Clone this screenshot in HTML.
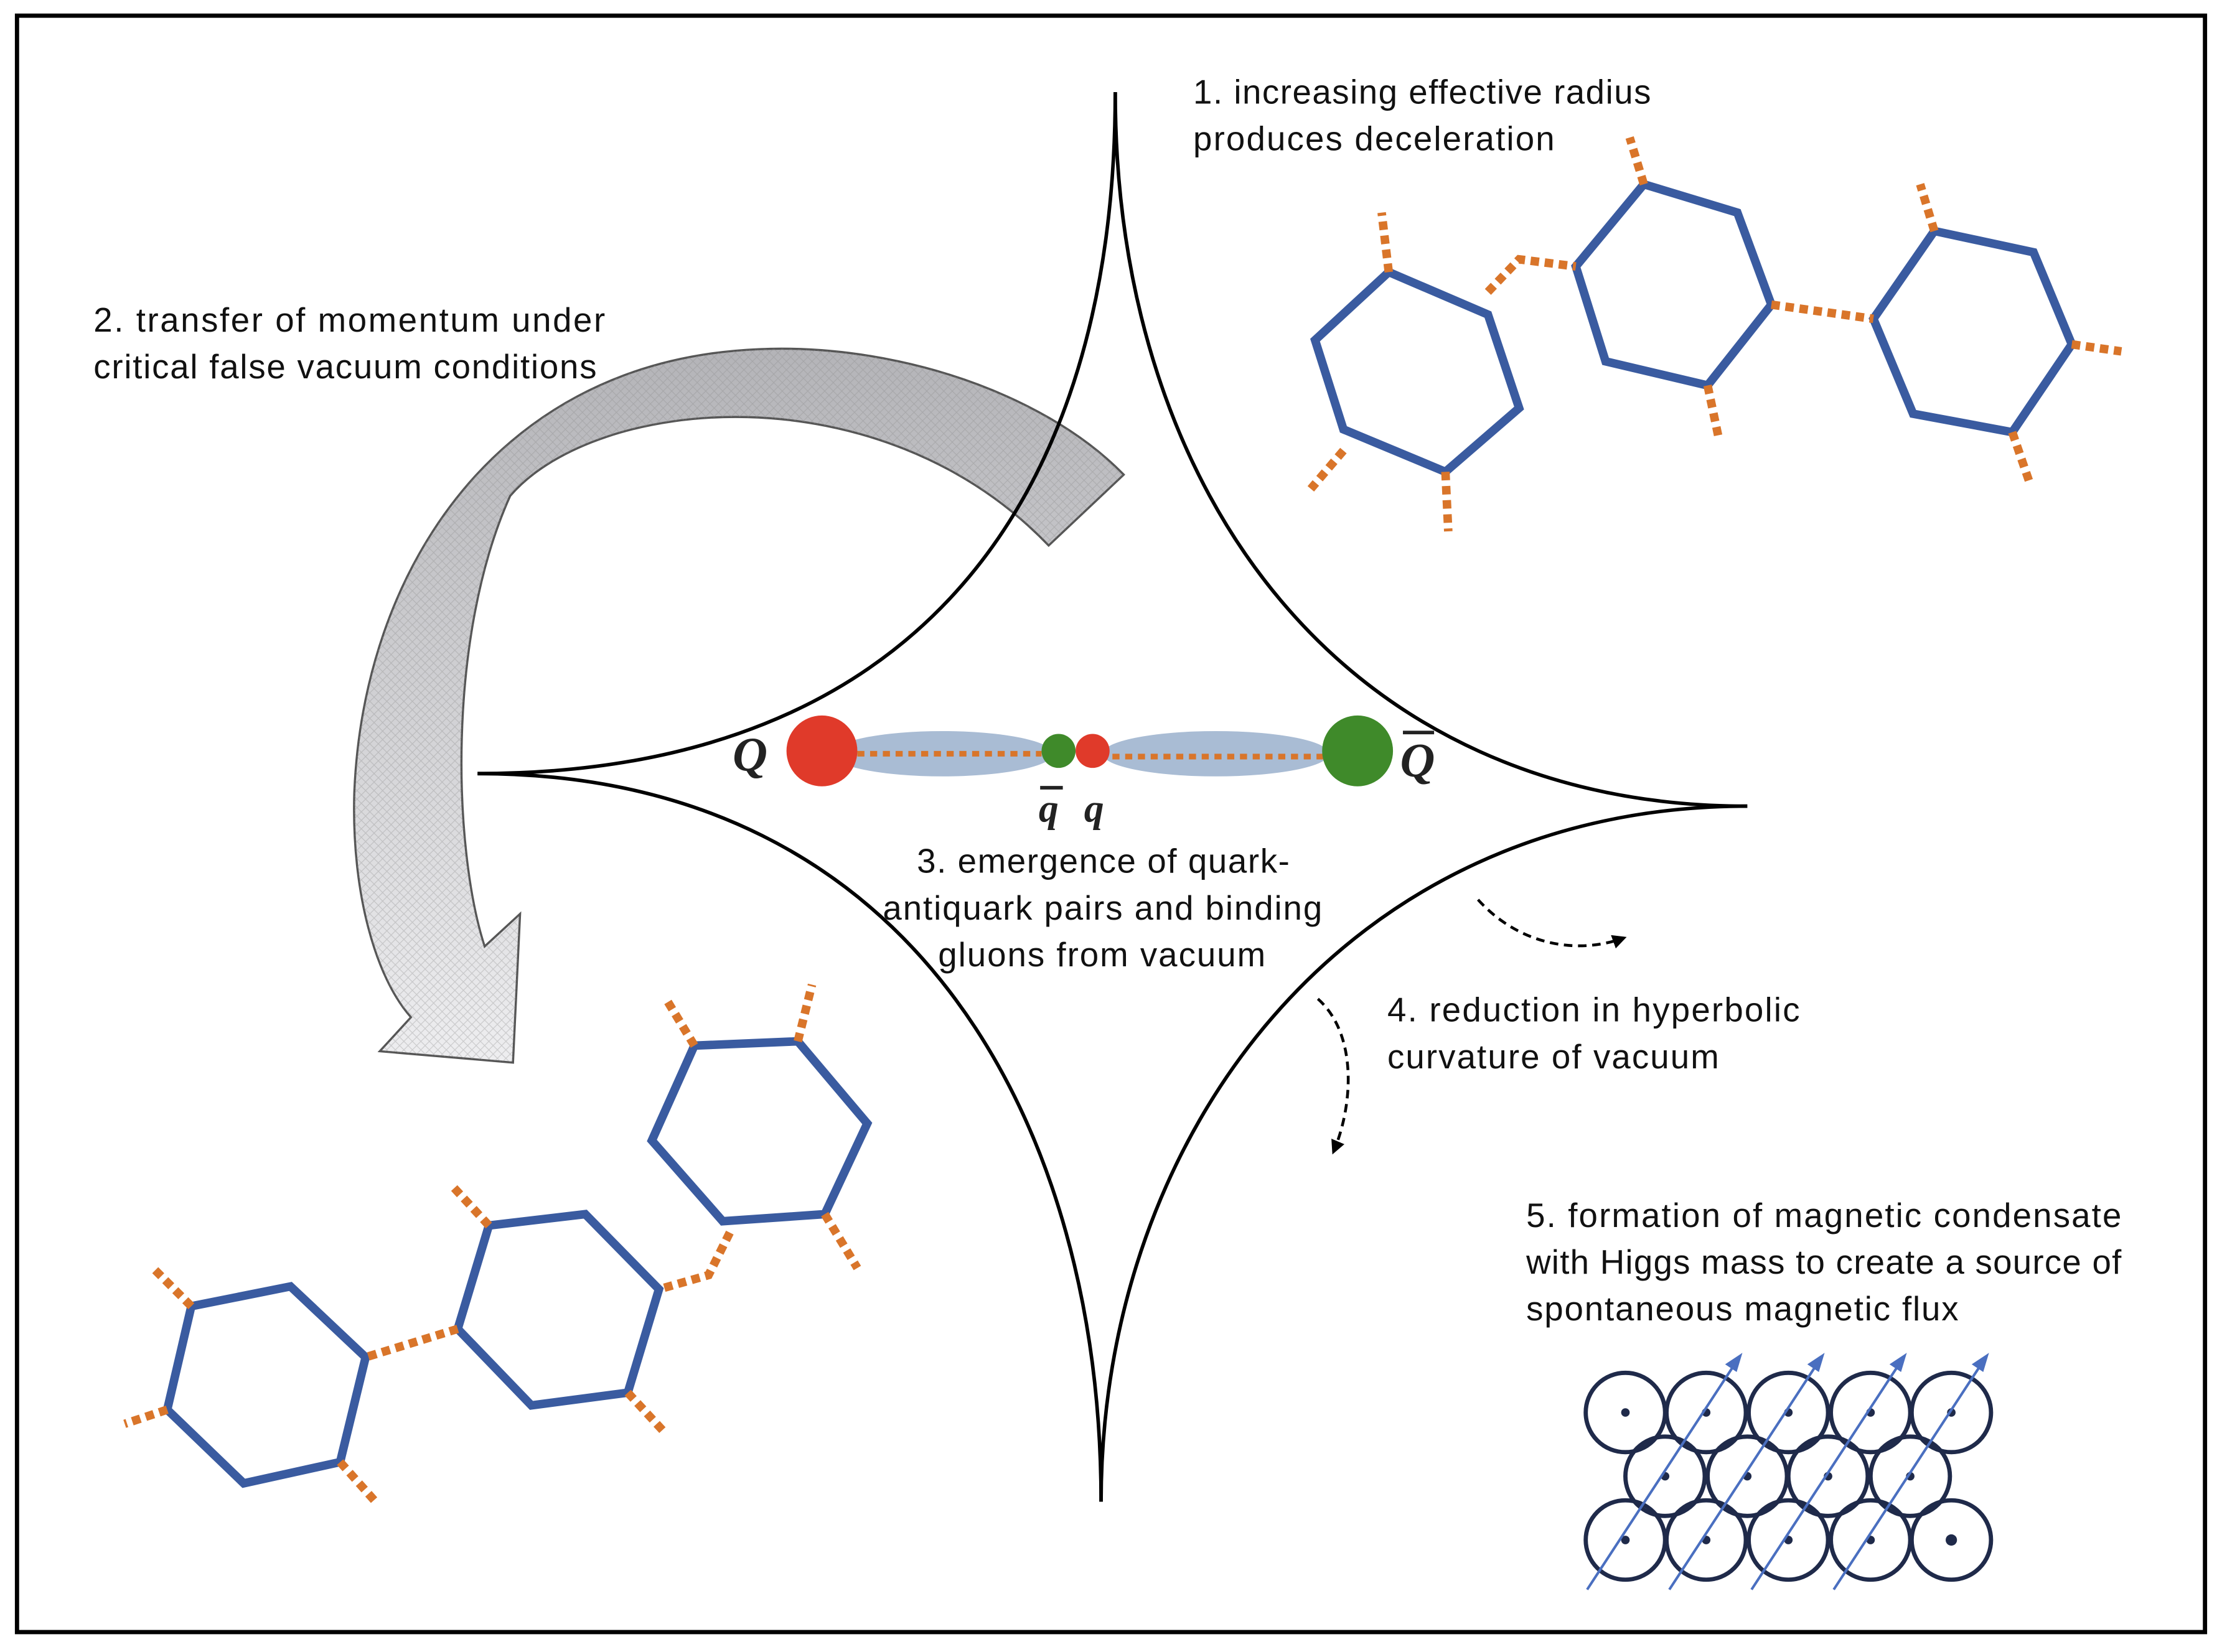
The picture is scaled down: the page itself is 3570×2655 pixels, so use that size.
<!DOCTYPE html>
<html><head><meta charset="utf-8"><style>html,body{margin:0;padding:0;background:#fff}svg{display:block}</style></head>
<body>
<svg xmlns="http://www.w3.org/2000/svg" width="3570" height="2655" viewBox="0 0 1568 1166">
<defs>
<linearGradient id="ag" x1="0" y1="0" x2="0" y2="1">
<stop offset="0" stop-color="#b4b4b8"/><stop offset="1" stop-color="#eeeef0"/>
</linearGradient>
<pattern id="pt" width="6" height="6" patternUnits="userSpaceOnUse">
<path d="M0,6 L6,0 M0,0 L6,6" stroke="#888" stroke-width="0.5" opacity="0.35"/>
</pattern>
<marker id="ah" markerWidth="10" markerHeight="10" refX="8" refY="5" orient="auto" markerUnits="userSpaceOnUse">
<path d="M0,0 L10,5 L0,10 Z" fill="#000"/>
</marker>
</defs>
<rect x="0" y="0" width="1568" height="1166" fill="#fff"/>
<rect x="12" y="11" width="1544" height="1141" fill="none" stroke="#000" stroke-width="3"/>

<path d="M793,335 C720,260 560,220 440,265 C320,310 255,430 250,560 C248,630 265,690 290,718 L268,742 L362,750 L367,645 L342,668 C320,600 315,450 360,350 C420,280 620,260 740,385 Z" fill="url(#ag)" stroke="#555" stroke-width="1.5"/>
<path d="M793,335 C720,260 560,220 440,265 C320,310 255,430 250,560 C248,630 265,690 290,718 L268,742 L362,750 L367,645 L342,668 C320,600 315,450 360,350 C420,280 620,260 740,385 Z" fill="url(#pt)"/>

<g fill="none" stroke="#000" stroke-width="2.5">
<path d="M787,65 C787,350 650,546 337,546"/>
<path d="M787,65 C787,350 950,569 1233,569"/>
<path d="M1233,569 C950,569 777,800 777,1060"/>
<path d="M337,546 C650,546 777,800 777,1060"/>
</g>

<g fill="none" stroke="#3a5ba0" stroke-width="6" stroke-linejoin="miter">
<polygon points="980,192 1050,222 1072,288 1020,333 948,303 928,240"/>
<polygon points="1160,130 1226,150 1250,215 1205,272 1133,255 1112,188"/>
<polygon points="1365,163 1435,178 1462,243 1420,305 1350,292 1322,225"/>
<polygon points="490,738 563,735 612,793 582,857 510,862 460,805"/>
<polygon points="345,865 413,857 465,910 443,983 375,992 323,938"/>
<polygon points="135,922 205,908 258,958 240,1032 172,1047 118,995"/>
</g>
<g fill="none" stroke="#d9752a" stroke-width="6" stroke-dasharray="6,4">
<path d="M980,192 L975,150"/><path d="M1050,206 L1072,183 L1112,188"/><path d="M1020,333 L1022,375"/><path d="M948,318 L925,345"/>
<path d="M1160,130 L1150,97"/><path d="M1250,215 L1322,225"/><path d="M1205,272 L1213,310"/>
<path d="M1365,163 L1355,130"/><path d="M1462,243 L1497,248"/><path d="M1420,305 L1432,340"/>
<path d="M490,738 L470,705"/><path d="M563,735 L573,695"/><path d="M582,857 L605,895"/><path d="M515,870 L500,900 L465,910"/>
<path d="M345,865 L320,838"/><path d="M443,983 L468,1010"/><path d="M323,938 L258,958"/>
<path d="M135,922 L108,895"/><path d="M118,995 L88,1005"/><path d="M240,1032 L265,1060"/>
</g>

<ellipse cx="665" cy="532" rx="78" ry="16" fill="#a9bcd4"/>
<ellipse cx="858" cy="532" rx="80" ry="16" fill="#a9bcd4"/>
<g stroke="#d9752a" stroke-width="4" stroke-dasharray="5,4">
<line x1="605" y1="532" x2="735" y2="532"/><line x1="785" y1="534" x2="935" y2="534"/>
</g>
<circle cx="580" cy="530" r="25" fill="#e03a2a"/>
<circle cx="747" cy="530" r="12" fill="#3f8a2a"/>
<circle cx="771" cy="530" r="12" fill="#e03a2a"/>
<circle cx="958" cy="530" r="25" fill="#3f8a2a"/>
<g font-family="Liberation Serif, serif" font-style="italic" font-weight="bold" font-size="34" fill="#222">
<text x="517" y="544">Q</text>
<text x="988" y="548">Q</text>
<line x1="990" y1="517" x2="1012" y2="517" stroke="#222" stroke-width="2.5"/>
<text x="733" y="580" font-size="28">q</text>
<line x1="734" y1="556" x2="750" y2="556" stroke="#222" stroke-width="2.5"/>
<text x="765" y="580" font-size="28">q</text>
</g>

<path d="M1043,635 C1070,665 1110,675 1146,662" fill="none" stroke="#000" stroke-width="2" stroke-dasharray="6,4" marker-end="url(#ah)"/>
<path d="M930,705 C958,730 955,780 941,813" fill="none" stroke="#000" stroke-width="2" stroke-dasharray="6,4" marker-end="url(#ah)"/>

<g font-family="Liberation Sans, sans-serif" font-size="24" fill="#111" lengthAdjust="spacingAndGlyphs">
<text x="842" y="73" textLength="323">1. increasing effective radius</text>
<text x="842" y="106" textLength="255">produces deceleration</text>
<text x="66" y="234" textLength="361">2. transfer of momentum under</text>
<text x="66" y="267" textLength="355">critical false vacuum conditions</text>
<text x="647" y="616" textLength="263">3. emergence of quark-</text>
<text x="623" y="649" textLength="310">antiquark pairs and binding</text>
<text x="662" y="682" textLength="231">gluons from vacuum</text>
<text x="979" y="721" textLength="291">4. reduction in hyperbolic</text>
<text x="979" y="754" textLength="234">curvature of vacuum</text>
<text x="1077" y="866" textLength="420">5. formation of magnetic condensate</text>
<text x="1077" y="899" textLength="420">with Higgs mass to create a source of</text>
<text x="1077" y="932" textLength="305">spontaneous magnetic flux</text>
</g>

<g fill="none" stroke="#1f2a4a" stroke-width="3">
<circle cx="1147" cy="997" r="28"/><circle cx="1204" cy="997" r="28"/><circle cx="1262" cy="997" r="28"/><circle cx="1320" cy="997" r="28"/><circle cx="1377" cy="997" r="28"/>
<circle cx="1175" cy="1042" r="28"/><circle cx="1233" cy="1042" r="28"/><circle cx="1290" cy="1042" r="28"/><circle cx="1348" cy="1042" r="28"/>
<circle cx="1147" cy="1087" r="28"/><circle cx="1204" cy="1087" r="28"/><circle cx="1262" cy="1087" r="28"/><circle cx="1320" cy="1087" r="28"/><circle cx="1377" cy="1087" r="28"/>
</g>
<g fill="#1f2a4a">
<circle cx="1147" cy="997" r="3"/><circle cx="1204" cy="997" r="3"/><circle cx="1262" cy="997" r="3"/><circle cx="1320" cy="997" r="3"/><circle cx="1377" cy="997" r="3"/>
<circle cx="1175" cy="1042" r="3"/><circle cx="1233" cy="1042" r="3"/><circle cx="1290" cy="1042" r="3"/><circle cx="1348" cy="1042" r="3"/>
<circle cx="1147" cy="1087" r="3"/><circle cx="1204" cy="1087" r="3"/><circle cx="1262" cy="1087" r="3"/><circle cx="1320" cy="1087" r="3"/><circle cx="1377" cy="1087" r="4"/>
</g>
<g stroke="#4a6fc0" stroke-width="1.8" fill="#4a6fc0">
<line x1="1120" y1="1122" x2="1226" y2="960"/><path d="M1228,957 L1219,963 L1225,967 Z"/>
<line x1="1178" y1="1122" x2="1284" y2="960"/><path d="M1286,957 L1277,963 L1283,967 Z"/>
<line x1="1236" y1="1122" x2="1342" y2="960"/><path d="M1344,957 L1335,963 L1341,967 Z"/>
<line x1="1294" y1="1122" x2="1400" y2="960"/><path d="M1402,957 L1393,963 L1399,967 Z"/>
</g>
</svg>
</body></html>
